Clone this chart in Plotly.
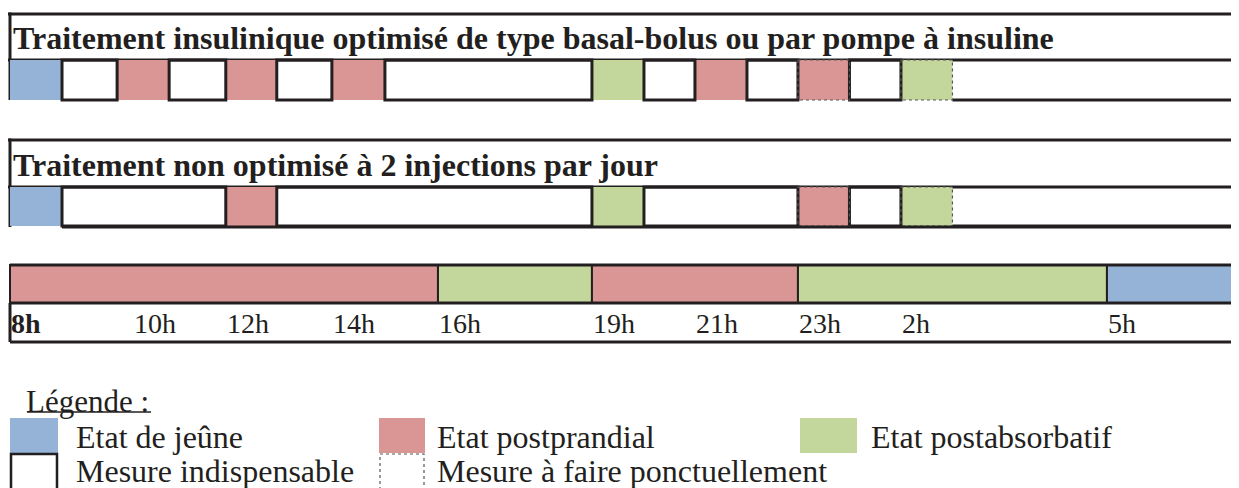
import plotly.graph_objects as go

# ---------------- data ----------------
title_optimised = "Traitement insulinique optimisé de type basal-bolus ou par pompe à insuline"
title_non_optimised = "Traitement non optimisé à 2 injections par jour"

# positions along the day, in table-column units (0 = start of 8h column)
tick_labels = ["8h", "10h", "12h", "14h", "16h", "19h", "21h", "23h", "2h", "5h"]
tick_positions = [0, 2.39, 4.19, 6.25, 8.31, 11.3, 13.3, 15.3, 17.3, 21.3]

# metabolic state over the day (bottom band)
state_start = [0, 8.31, 11.3, 15.3, 21.3]
state_end = [8.31, 11.3, 15.3, 21.3, 24]
state_kind = ["postprandial", "postabsorbatif", "postprandial", "postabsorbatif", "jeune"]

# optimised treatment: glucose measurement slots ("" = no measurement)
opt_start = [0, 1.01, 2.08, 3.09, 4.19, 5.18, 6.25, 7.28, 11.3, 12.31, 13.3, 14.31, 15.3, 16.3, 17.3, 18.3]
opt_end = [1.01, 2.08, 3.09, 4.19, 5.18, 6.25, 7.28, 11.3, 12.31, 13.3, 14.31, 15.3, 16.3, 17.3, 18.3, 24]
opt_state = ["jeune", "", "postprandial", "", "postprandial", "", "postprandial", "",
             "postabsorbatif", "", "postprandial", "", "postprandial", "", "postabsorbatif", ""]
opt_measure = ["indispensable", "", "indispensable", "", "indispensable", "", "indispensable", "",
               "indispensable", "", "indispensable", "", "ponctuelle", "", "ponctuelle", ""]

# non optimised treatment
non_start = [0, 1.01, 4.19, 5.18, 11.3, 12.31, 15.3, 16.3, 17.3, 18.3]
non_end = [1.01, 4.19, 5.18, 11.3, 12.31, 15.3, 16.3, 17.3, 18.3, 24]
non_state = ["jeune", "", "postprandial", "", "postabsorbatif", "", "postprandial", "", "postabsorbatif", ""]
non_measure = ["indispensable", "", "indispensable", "", "indispensable", "", "ponctuelle", "", "ponctuelle", ""]

legend_title = "Légende :"
legend_states = ["jeune", "postprandial", "postabsorbatif"]
legend_state_labels = ["Etat de jeûne", "Etat postprandial", "Etat postabsorbatif"]
legend_measures = ["indispensable", "ponctuelle"]
legend_measure_labels = ["Mesure indispensable", "Mesure à faire ponctuellement"]

# ---------------- style ----------------
PAGE_W, PAGE_H = 1239, 488
OFF = 8                      # default page margin around the figure
W, H = PAGE_W - OFF, PAGE_H - OFF
COL_PX = 51.5
X0_PX = 10 - OFF
COLORS = {"jeune": "#95B3D7", "postprandial": "#D99694", "postabsorbatif": "#C3D69B"}
INK = "#231F20"
DOT = "#555555"
FONT = "Liberation Serif"

fig = go.Figure()
shapes = []
annotations = []


def px(xp):
    """page pixel -> paper fraction"""
    return (xp - OFF) / W


def hline(x0, x1, y, width=3, xref="x"):
    shapes.append(dict(type="line", xref=xref, yref="y", x0=x0, x1=x1, y0=y, y1=y,
                       line=dict(color=INK, width=width)))


def vline(x, y0, y1, width=3, xref="x"):
    shapes.append(dict(type="line", xref=xref, yref="y", x0=x, x1=x, y0=y0, y1=y1,
                       line=dict(color=INK, width=width)))


def measurement_row(starts, ends, states, measures, y0, y1):
    n = len(starts)
    for s, e, st in zip(starts, ends, states):
        if st:
            shapes.append(dict(type="rect", xref="x", yref="y", x0=s, x1=e, y0=y0, y1=y1,
                               fillcolor=COLORS[st], line=dict(width=0)))
    for i, (s, e, st) in enumerate(zip(starts, ends, states)):
        if not st:
            if i == n - 1:
                hline(s, e, y1)
            else:
                shapes.append(dict(type="rect", xref="x", yref="y", x0=s, x1=e, y0=y0, y1=y1,
                                   fillcolor="rgba(0,0,0,0)", line=dict(color=INK, width=3)))
    for s, e, m in zip(starts, ends, measures):
        if m == "ponctuelle":
            shapes.append(dict(type="rect", xref="x", yref="y", x0=s, x1=e, y0=y0, y1=y1,
                               fillcolor="rgba(0,0,0,0)",
                               line=dict(color=DOT, width=1.2, dash="dot")))


def title_box(text, y_top, y_line, y_bottom):
    hline(-1, 25, y_top)
    hline(-1, 25, y_line)
    vline(0, y_top - 1.5, y_bottom)
    annotations.append(dict(xref="x", yref="y", x=0.02, y=(y_top + y_line) / 2 + 1,
                            xanchor="left", yanchor="middle", showarrow=False,
                            text="<b>%s</b>" % text,
                            font=dict(family=FONT, size=32, color=INK)))


# --- optimised treatment block
title_box(title_optimised, 14, 60, 100)
measurement_row(opt_start, opt_end, opt_state, opt_measure, 60, 100)

# --- non optimised block
title_box(title_non_optimised, 140, 187, 227)
measurement_row(non_start, non_end, non_state, non_measure, 187, 226)
hline(non_end[0], 25, 227)

# --- metabolic state band
for s, e, k in zip(state_start, state_end, state_kind):
    shapes.append(dict(type="rect", xref="x", yref="y", x0=s, x1=e, y0=265, y1=303,
                       fillcolor=COLORS[k], line=dict(color=INK, width=2)))
hline(0, 25, 265)
hline(0, 25, 303)
hline(0, 25, 342)
vline(0, 303, 342)

for lab, pos in zip(tick_labels, tick_positions):
    annotations.append(dict(xref="x", yref="y", x=pos - 0.02, y=323, xanchor="left", yanchor="middle",
                            showarrow=False, text=("<b>%s</b>" % lab) if lab == "8h" else lab,
                            font=dict(family=FONT, size=28, color=INK)))

# --- legend
annotations.append(dict(xref="paper", yref="y", x=px(24), y=401, xanchor="left", yanchor="middle",
                        showarrow=False, text=legend_title,
                        font=dict(family=FONT, size=31, color=INK)))
hline(px(27), px(151), 412, width=1.5, xref="paper")

sq_x = [10, 379, 800]
sq_w = [48, 46, 57]
txt_x = [74, 435, 869]
for k, lab, x, w, tx in zip(legend_states, legend_state_labels, sq_x, sq_w, txt_x):
    shapes.append(dict(type="rect", xref="paper", yref="y", x0=px(x), x1=px(x + w), y0=418, y1=453,
                       fillcolor=COLORS[k], line=dict(width=0)))
    annotations.append(dict(xref="paper", yref="y", x=px(tx), y=437, xanchor="left", yanchor="middle",
                            showarrow=False, text=lab, font=dict(family=FONT, size=32, color=INK)))

for m, lab, x, w, tx in zip(legend_measures, legend_measure_labels, sq_x, sq_w, txt_x):
    if m == "indispensable":
        ln = dict(color=INK, width=2.5)
    else:
        ln = dict(color=DOT, width=1.2, dash="dot")
    shapes.append(dict(type="rect", xref="paper", yref="y", x0=px(x + 1), x1=px(x + w - 1), y0=454, y1=500,
                       fillcolor="rgba(0,0,0,0)", line=ln))
    annotations.append(dict(xref="paper", yref="y", x=px(tx), y=471, xanchor="left", yanchor="middle",
                            showarrow=False, text=lab, font=dict(family=FONT, size=32, color=INK)))

fig.update_layout(
    width=W, height=H,
    margin=dict(l=0, r=0, t=0, b=0),
    paper_bgcolor="white", plot_bgcolor="white",
    xaxis=dict(range=[-X0_PX / COL_PX, (W - X0_PX) / COL_PX], visible=False, fixedrange=True),
    yaxis=dict(range=[PAGE_H, OFF], visible=False, fixedrange=True),
    shapes=shapes, annotations=annotations, showlegend=False,
)

fig.write_html("out.html")
